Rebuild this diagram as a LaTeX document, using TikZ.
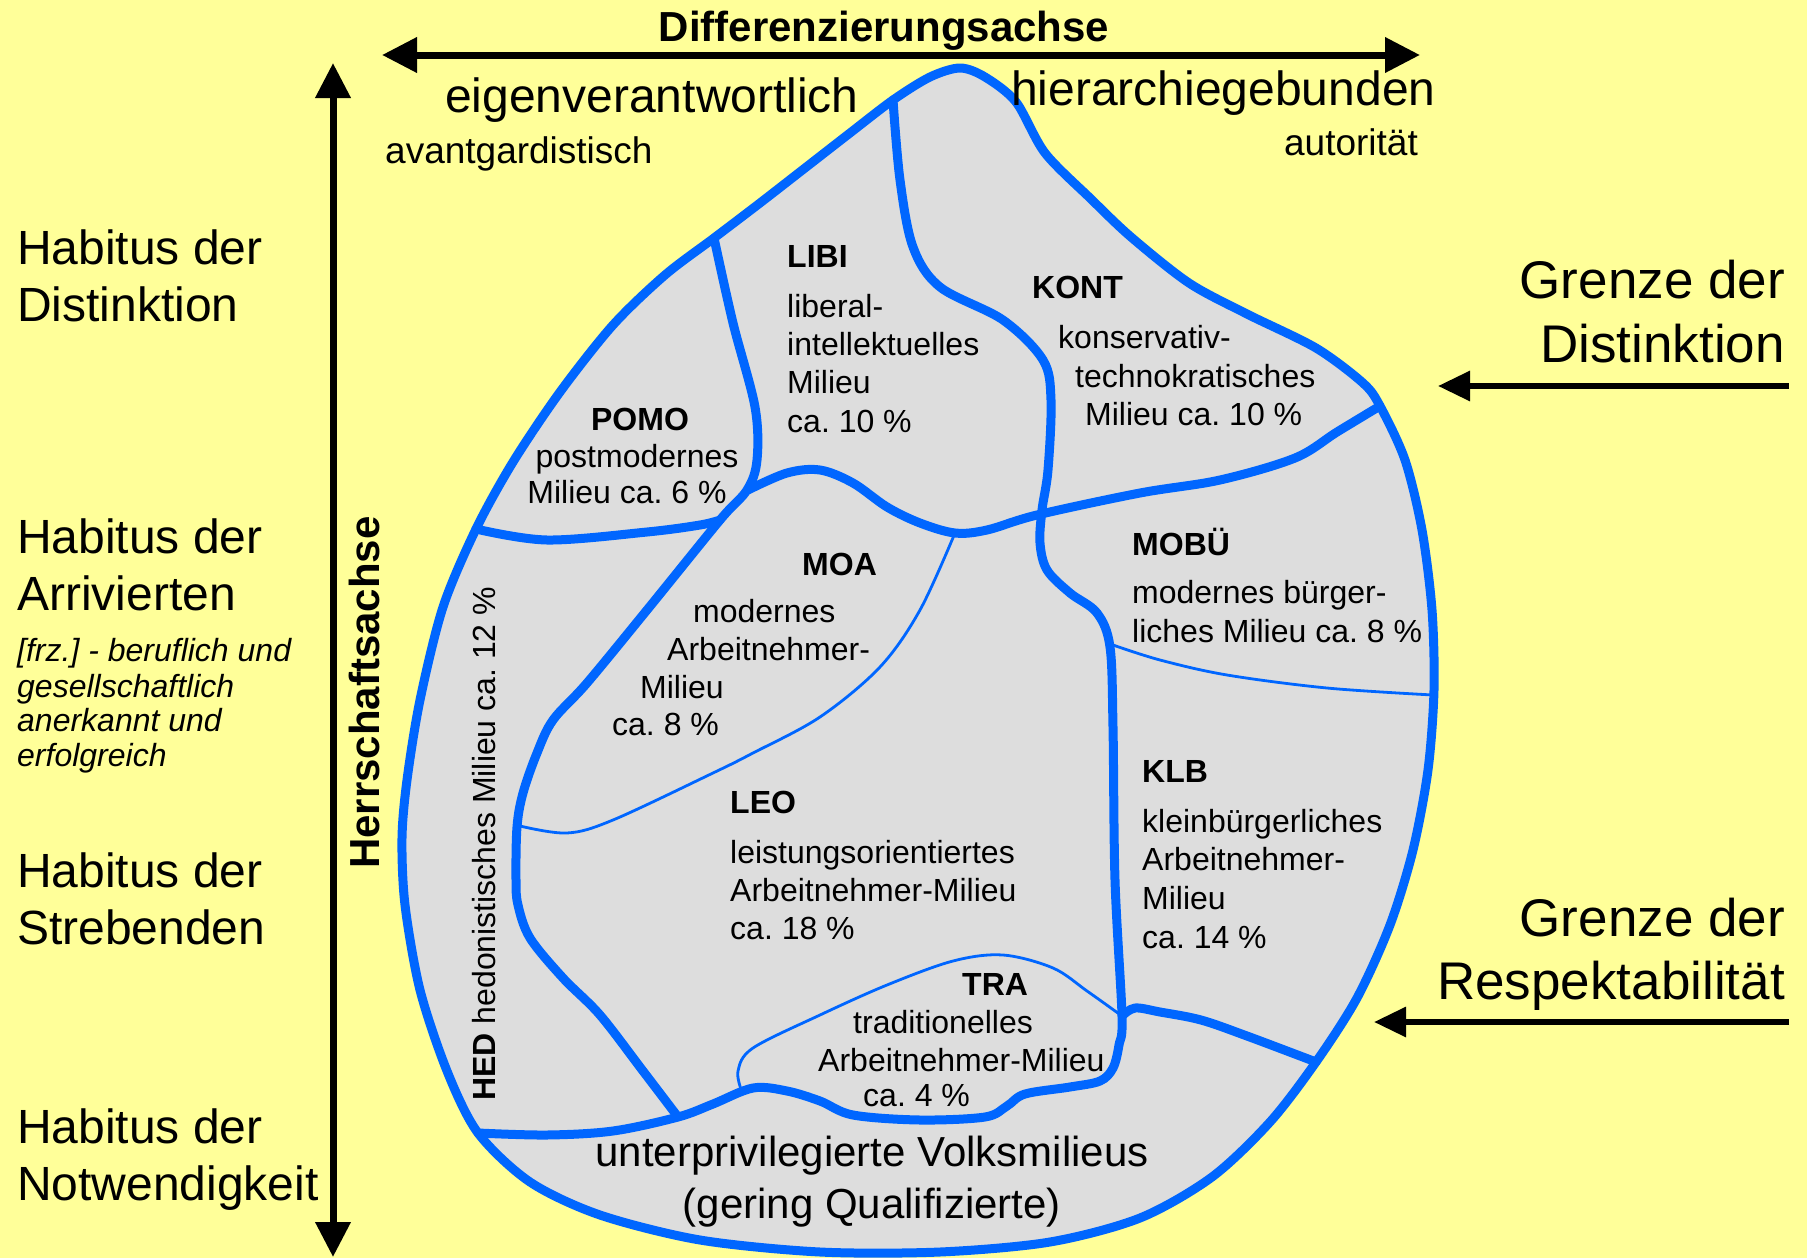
\documentclass[tikz,border=0pt]{standalone}
\usepackage{fontspec}
\setmainfont{Liberation Sans}
\usetikzlibrary{arrows.meta}
\definecolor{bgyellow}{HTML}{FFFF99}
\definecolor{milieublue}{HTML}{0066FF}
\definecolor{milieugray}{HTML}{DDDDDD}

\tikzset{
  habitus/.style={inner sep=0pt, anchor=base west, font=\fontsize{48}{58}\selectfont},
  note/.style={inner sep=0pt, anchor=base west, font=\fontsize{32}{36}\selectfont\itshape},
  axislbl/.style={inner sep=0pt, font=\fontsize{42}{50}\selectfont\bfseries},
  pole/.style={inner sep=0pt, anchor=base west, font=\fontsize{48}{58}\selectfont},
  polesub/.style={inner sep=0pt, anchor=base west, font=\fontsize{37}{44}\selectfont},
  grenze/.style={inner sep=0pt, anchor=base east, font=\fontsize{53}{64}\selectfont},
  abbr/.style={inner sep=0pt, anchor=base west, font=\fontsize{32}{37}\selectfont\bfseries},
  txt/.style={inner sep=0pt, anchor=base west, font=\fontsize{32}{37}\selectfont},
  unter/.style={inner sep=0pt, anchor=base, font=\fontsize{42}{52}\selectfont},
  border/.style={draw=milieublue, line width=9pt, line join=round, line cap=round},
  thinborder/.style={draw=milieublue, line width=2.8pt, line join=round},
  axisarrow/.style={line width=7pt, >={Triangle[length=35pt,width=34pt]}},
  grenzarrow/.style={line width=6pt, >={Triangle[length=32pt,width=29pt]}}
}

\begin{document}
\frenchspacing
\begin{tikzpicture}[x=1pt, y=-1pt]
  \useasboundingbox (0,0) rectangle (1807,1258);
  \fill[bgyellow] (0,0) rectangle (1807,1258);

  % outline of the milieus
  \filldraw[border, fill=milieugray] plot[smooth cycle, tension=0.5] coordinates {
    (960,68) (985,77) (1016,102) (1045,153) (1091,199) (1131,237) (1189,283)
    (1247,314) (1316,348) (1363,383) (1380,406) (1405,460) (1422,530)
    (1432,610) (1434,690) (1428,770) (1413,850) (1390,925) (1357,998)
    (1316,1062) (1270,1122) (1212,1177) (1140,1218) (1050,1242) (940,1252)
    (820,1252) (700,1240) (600,1215) (530,1182) (478,1133) (447,1071)
    (420,990) (405,905) (402,838) (407,780) (420,700) (443,607) (476,529)
    (513,462) (560,392) (613,325) (665,275) (714,238) (760,203) (805,168)
    (850,133) (893,100) (930,77)};

  % thick borders
  \draw[border] plot[smooth, tension=0.55] coordinates {
    (893,100) (900,180) (913,247) (940,287) (1003,320) (1043,360) (1051,400)
    (1048,470) (1042,510) (1040,543) (1047,570) (1070,593) (1097,613) (1110,647)
    (1113,727) (1115,880) (1122,1016) (1119,1045) (1113,1068) (1100,1081)
    (1070,1087) (1025,1094) (1007,1106) (985,1117) (920,1120) (853,1115)
    (820,1101) (787,1091) (753,1088) (713,1104) (678,1117) (613,1131) (547,1135)
    (478,1133)};
  \draw[border] plot[smooth, tension=0.55] coordinates {
    (714,238) (733,323) (755,407) (757,460) (747,490) (720,520) (647,610)
    (587,683) (553,720) (537,753) (523,793) (517,827) (516,880) (518,905)
    (530,938) (563,978) (600,1015) (643,1071) (678,1117)};
  \draw[border] plot[smooth, tension=0.55] coordinates {
    (476,529) (547,540) (647,532) (700,525) (720,520)};
  \draw[border] plot[smooth, tension=0.55] coordinates {
    (748,490) (787,473) (820,470) (853,483) (887,507) (920,523) (955,533)
    (987,530) (1037,515) (1140,493) (1220,480) (1295,458) (1337,432) (1380,406)};
  \draw[border] plot[smooth, tension=0.55] coordinates {
    (1122,1016) (1135,1008) (1160,1012) (1201,1020) (1247,1036) (1316,1062)};

  % thin borders
  \draw[thinborder] plot[smooth, tension=0.55] coordinates {
    (955,533) (920,610) (880,667) (820,717) (753,753) (713,773) (613,820)
    (567,833) (520,826)};
  \draw[thinborder] plot[smooth, tension=0.55] coordinates {
    (1113,645) (1160,660) (1227,675) (1327,688) (1433,695)};
  \draw[thinborder] plot[smooth, tension=0.55] coordinates {
    (742,1092) (738,1071) (753,1048) (820,1015) (887,985) (953,961) (1003,955)
    (1053,968) (1087,991) (1122,1016)};

  % axes
  \coordinate (diffl) at (382,55);
  \coordinate (diffr) at (1420,55);
  \draw[axisarrow, <->] (diffl) -- (diffr);
  \coordinate (herrt) at (333,63);
  \coordinate (herrb) at (333,1257);
  \draw[axisarrow, <->] (herrt) -- (herrb);
  \node[axislbl, anchor=base] (diff) at (884,41) {Differenzierungsachse};
  \node[axislbl, anchor=base west, rotate=90] (herr) at (379,869) {Herrschaftsachse};

  \node[pole] (eigen) at (445,112) {eigenverantwortlich};
  \node[polesub] (avant) at (385,163) {avantgardistisch};
  \node[pole] (hier) at (1011,105) {hierarchiegebunden};
  \node[polesub, anchor=base east] (autor) at (1418,155) {autorität};

  % habitus
  \node[habitus] (hab1a) at (17,264) {Habitus der};
  \node[habitus] (hab1b) at (17,321) {Distinktion};
  \node[habitus] (hab2a) at (17,553) {Habitus der};
  \node[habitus] (hab2b) at (17,610) {Arrivierten};
  \node[note] (arr1) at (17,661) {[frz.] - beruflich und};
  \node[note] (arr2) at (17,697) {gesellschaftlich};
  \node[note] (arr3) at (17,731) {anerkannt und};
  \node[note] (arr4) at (17,766) {erfolgreich};
  \node[habitus] (hab3a) at (17,887) {Habitus der};
  \node[habitus] (hab3b) at (17,944) {Strebenden};
  \node[habitus] (hab4a) at (17,1143) {Habitus der};
  \node[habitus] (hab4b) at (17,1200) {Notwendigkeit};

  % grenzen
  \node[grenze] (gdist1) at (1785,298) {Grenze der};
  \node[grenze] (gdist2) at (1785,362) {Distinktion};
  \coordinate (gdistt) at (1789,386);
  \coordinate (gdisth) at (1438,386);
  \draw[grenzarrow, ->] (gdistt) -- (gdisth);
  \node[grenze] (gresp1) at (1785,936) {Grenze der};
  \node[grenze] (gresp2) at (1785,999) {Respektabilität};
  \coordinate (grespt) at (1789,1022);
  \coordinate (gresph) at (1374,1022);
  \draw[grenzarrow, ->] (grespt) -- (gresph);

  % milieus
  \node[abbr] (libi) at (787,267) {LIBI};
  \node[txt] (libi1) at (787,317) {liberal-};
  \node[txt] (libi2) at (787,355) {intellektuelles};
  \node[txt] (libi3) at (787,393) {Milieu};
  \node[txt] (libi4) at (787,432) {ca. 10 \%};

  \node[abbr] (kont) at (1032,298) {KONT};
  \node[txt] (kont1) at (1058,348) {konservativ-};
  \node[txt] (kont2) at (1075,387) {technokratisches};
  \node[txt] (kont3) at (1085,425) {Milieu ca. 10 \%};

  \node[abbr, anchor=base] (pomo) at (640,430) {POMO};
  \node[txt, anchor=base] (pomo1) at (637,467) {postmodernes};
  \node[txt, anchor=base] (pomo2) at (627,503) {Milieu ca. 6 \%};

  \node[abbr] (moa) at (802,575) {MOA};
  \node[txt] (moa1) at (693,622) {modernes};
  \node[txt] (moa2) at (667,660) {Arbeitnehmer-};
  \node[txt] (moa3) at (640,698) {Milieu};
  \node[txt] (moa4) at (612,735) {ca. 8 \%};

  \node[abbr] (mobue) at (1132,555) {MOBÜ};
  \node[txt] (mobue1) at (1132,603) {modernes bürger-};
  \node[txt] (mobue2) at (1132,642) {liches Milieu ca. 8 \%};

  \node[abbr] (leo) at (730,813) {LEO};
  \node[txt] (leo1) at (730,863) {leistungsorientiertes};
  \node[txt] (leo2) at (730,901) {Arbeitnehmer-Milieu};
  \node[txt] (leo3) at (730,939) {ca. 18 \%};

  \node[abbr] (klb) at (1142,782) {KLB};
  \node[txt] (klb1) at (1142,832) {kleinbürgerliches};
  \node[txt] (klb2) at (1142,870) {Arbeitnehmer-};
  \node[txt] (klb3) at (1142,909) {Milieu};
  \node[txt] (klb4) at (1142,948) {ca. 14 \%};

  \node[abbr] (tra) at (962,995) {TRA};
  \node[txt] (tra1) at (853,1033) {traditionelles};
  \node[txt] (tra2) at (818,1071) {Arbeitnehmer-Milieu};
  \node[txt] (tra3) at (863,1106) {ca. 4 \%};

  \node[txt, rotate=90] (hed) at (495,1101) {\textbf{HED} hedonistisches Milieu ca. 12 \%};

  \node[unter] (unter1) at (872,1166) {unterprivilegierte Volksmilieus};
  \node[unter] (unter2) at (872,1218) {(gering Qualifizierte)};
\end{tikzpicture}
\end{document}
